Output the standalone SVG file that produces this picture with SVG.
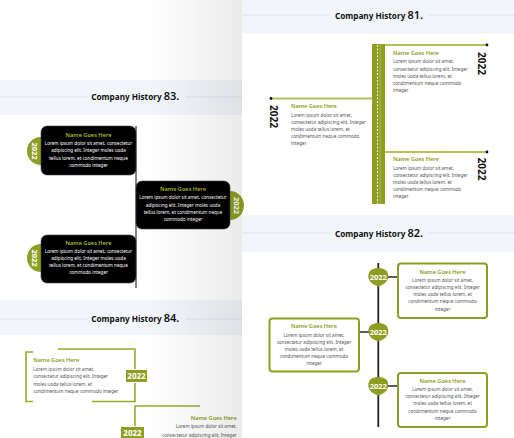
<svg xmlns="http://www.w3.org/2000/svg" width="514" height="438" viewBox="0 0 514 438">
<defs>
<style>
.band{fill:#f2f5f9}
.gl{stroke:#dfe3e8;stroke-width:1}
.title{font-family:"Noto Sans",sans-serif;font-weight:700;font-size:8.2px;fill:#111}
.num{font-size:11px;font-weight:600}
.nm{font-family:"Noto Sans",sans-serif;font-weight:600;font-size:5.6px;fill:#8a9a1b}
.nmb{font-family:"Noto Sans",sans-serif;font-weight:600;font-size:5.6px;fill:#a9bd2a}
.bd{font-family:"Noto Sans",sans-serif;font-size:4.6px;fill:#555}
.bdw{font-family:"Noto Sans",sans-serif;font-size:4.6px;fill:#fff}
.yr{font-family:"Noto Sans",sans-serif;font-weight:700;font-size:10px;fill:#111}
.yw{font-family:"Noto Sans",sans-serif;font-weight:700;font-size:7.5px;fill:#fff}
.ol{stroke:#b5c15a;stroke-width:2;fill:none}
.br{stroke:#9aaa2a;stroke-width:1.6;fill:none}
.box82{fill:#fff;stroke:#8e9e22;stroke-width:2}
.blk{fill:#000;stroke:#444;stroke-width:0.6}
.olf{fill:#8e9e22}
</style>
<linearGradient id="shade" x1="0" y1="0" x2="1" y2="0">
<stop offset="0" stop-color="#000" stop-opacity="0"/>
<stop offset="1" stop-color="#000" stop-opacity="0.08"/>
</linearGradient>
<path id="badge" d="M-10,-1 C-10,-7 -5,-9 0,-9 C5,-9 10,-7 10,-1 C10,5 5,8 0,9.5 C-5,8 -10,5 -10,-1Z"/>
</defs>
<rect width="514" height="438" fill="#fff"/>

<!-- LEFT COLUMN -->
<g id="panel83">
<rect class="band" x="0" y="80" width="242" height="35"/>
<line class="gl" x1="0" y1="97" x2="88" y2="97"/>
<line class="gl" x1="186" y1="97" x2="242" y2="97"/>
<text class="title" x="135.3" y="100.3" text-anchor="middle">Company History <tspan class="num">83.</tspan></text>
</g>
<g id="connectors83">
<line x1="136" y1="126" x2="136" y2="288" stroke="#5a5a5a" stroke-width="1.5"/>
</g>
<g id="n83a">
<path class="olf" d="M41,137 A14,14 0 0 0 41,165Z"/>
<rect class="blk" x="41" y="126" width="95" height="49" rx="6"/>
<text class="yw" transform="translate(35,151) rotate(90)" y="2.7" text-anchor="middle">2022</text>
<text class="nmb" x="88.5" y="136.5" text-anchor="middle">Name Goes Here</text>
<text class="bdw" text-anchor="middle"><tspan x="88.5" y="144.8">Lorem ipsum dolor sit amet, consectetur</tspan><tspan x="88.5" y="152.2">adipiscing elit. Integer moles uoda</tspan><tspan x="88.5" y="159.5">tellus lorem, et condimentum neque</tspan><tspan x="88.5" y="166.8">commodo integer</tspan></text>
</g>
<g id="n83b">
<path class="olf" d="M230,191 A14,14.5 0 0 1 230,220Z"/>
<rect class="blk" x="136" y="181" width="94" height="48" rx="6"/>
<text class="yw" transform="translate(236.5,205.5) rotate(90)" y="2.7" text-anchor="middle">2022</text>
<text class="nmb" x="183" y="191" text-anchor="middle">Name Goes Here</text>
<text class="bdw" text-anchor="middle"><tspan x="183" y="199.2">Lorem ipsum dolor sit amet, consectetur</tspan><tspan x="183" y="206.5">adipiscing elit. Integer moles uoda</tspan><tspan x="183" y="213.8">tellus lorem, et condimentum neque</tspan><tspan x="183" y="221.2">commodo integer</tspan></text>
</g>
<g id="n83c">
<path class="olf" d="M41,244 A14,14 0 0 0 41,272Z"/>
<rect class="blk" x="41" y="235" width="95" height="48" rx="6"/>
<text class="yw" transform="translate(35,258) rotate(90)" y="2.7" text-anchor="middle">2022</text>
<text class="nmb" x="88.5" y="245.3" text-anchor="middle">Name Goes Here</text>
<text class="bdw" text-anchor="middle"><tspan x="88.5" y="252.5">Lorem ipsum dolor sit amet, consectetur</tspan><tspan x="88.5" y="259.8">adipiscing elit. Integer moles uoda</tspan><tspan x="88.5" y="267">tellus lorem, et condimentum neque</tspan><tspan x="88.5" y="274.2">commodo integer</tspan></text>
</g>

<g id="panel84">
<rect class="band" x="0" y="300" width="242" height="35"/>
<line class="gl" x1="0" y1="319" x2="88" y2="319"/>
<line class="gl" x1="186" y1="319" x2="242" y2="319"/>
<text class="title" x="135.3" y="322.3" text-anchor="middle">Company History <tspan class="num">84.</tspan></text>
</g>
<g id="connectors84">
<path class="br" d="M33,352 H26 V401.5 H33"/>
<path class="br" d="M58,349 H135 V401.5 H92"/>
<path class="br" d="M200,406 H135 V430"/>
</g>
<g id="n84a">
<rect x="125" y="369" width="23" height="14" fill="#fff" opacity="0.9"/>
<rect class="olf" x="126" y="370" width="21" height="12"/>
<text class="yw" x="136.5" y="379" text-anchor="middle" style="font-size:8px">2022</text>
<text class="nm" x="33.3" y="362">Name Goes Here</text>
<text class="bd"><tspan x="33.3" y="370.8">Lorem ipsum dolor sit amet,</tspan><tspan x="33.3" y="378.2">consectetur adipiscing elit. Integer</tspan><tspan x="33.3" y="385.5">moles uoda tellus lorem, et</tspan><tspan x="33.3" y="392.8">condimentum neque commodo integer</tspan></text>
</g>
<g id="n84b">
<rect x="120" y="426" width="25" height="14" fill="#fff" opacity="0.9"/>
<rect class="olf" x="121" y="427" width="23" height="12"/>
<text class="yw" x="132.5" y="436" text-anchor="middle" style="font-size:8px">2022</text>
<text class="nm" x="236.7" y="419.5" text-anchor="end">Name Goes Here</text>
<text class="bd" text-anchor="end"><tspan x="236.7" y="428.2">Lorem ipsum dolor sit amet,</tspan><tspan x="236.7" y="436.5">consectetur adipiscing elit. Integer</tspan></text>
</g>
<rect x="150" y="0" width="92" height="438" fill="url(#shade)"/>

<!-- RIGHT COLUMN -->
<g id="panel81">
<rect class="band" x="242" y="0" width="272" height="34"/>
<line class="gl" x1="242" y1="15" x2="330" y2="15"/>
<line class="gl" x1="428" y1="15" x2="514" y2="15"/>
<text class="title" x="379" y="18.5" text-anchor="middle">Company History <tspan class="num">81.</tspan></text>
</g>
<g id="connectors81">
<line class="ol" x1="385" y1="45" x2="487" y2="45"/>
<line class="ol" x1="271" y1="98.5" x2="372" y2="98.5"/>
<line class="ol" x1="385" y1="152" x2="487" y2="152"/>
<circle cx="487" cy="45" r="1.4" fill="#111"/>
<circle cx="271" cy="98.5" r="1.4" fill="#111"/>
<circle cx="487" cy="152" r="1.4" fill="#111"/>
</g>
<g id="bar81">
<rect x="372" y="44" width="13" height="160" fill="#8e9e22"/>
<rect x="379.5" y="44" width="1.2" height="160" fill="#a8b64a"/>
<line x1="377.5" y1="45" x2="377.5" y2="204" stroke="#fff" stroke-width="0.9" stroke-dasharray="2,1.5"/>
</g>
<g id="n81a">
<text class="nm" x="393" y="54.5">Name Goes Here</text>
<text class="bd"><tspan x="393" y="63.2">Lorem ipsum dolor sit amet,</tspan><tspan x="393" y="70.5">consectetur adipiscing elit. Integer</tspan><tspan x="393" y="77.8">moles uoda tellus lorem, et</tspan><tspan x="393" y="85.2">condimentum neque commodo</tspan><tspan x="393" y="92.2">integer</tspan></text>
<text class="yr" transform="translate(481.5,63.5) rotate(90)" y="3.6" text-anchor="middle">2022</text>
</g>
<g id="n81b">
<text class="nm" x="291" y="107.8">Name Goes Here</text>
<text class="bd"><tspan x="291" y="116.5">Lorem ipsum dolor sit amet,</tspan><tspan x="291" y="123.5">consectetur adipiscing elit. Integer</tspan><tspan x="291" y="130.8">moles uoda tellus lorem, et</tspan><tspan x="291" y="137.8">condimentum neque commodo</tspan><tspan x="291" y="145">integer</tspan></text>
<text class="yr" transform="translate(274,116.5) rotate(90)" y="3.6" text-anchor="middle">2022</text>
</g>
<g id="n81c">
<text class="nm" x="393" y="161">Name Goes Here</text>
<text class="bd"><tspan x="393" y="169.5">Lorem ipsum dolor sit amet,</tspan><tspan x="393" y="176.5">consectetur adipiscing elit. Integer</tspan><tspan x="393" y="183.5">moles uoda tellus lorem, et</tspan><tspan x="393" y="190.5">condimentum neque commodo</tspan><tspan x="393" y="197.5">integer</tspan></text>
<text class="yr" transform="translate(481.5,169) rotate(90)" y="3.6" text-anchor="middle">2022</text>
</g>

<g id="panel82">
<rect class="band" x="242" y="215" width="272" height="37"/>
<line class="gl" x1="242" y1="233" x2="330" y2="233"/>
<line class="gl" x1="428" y1="233" x2="514" y2="233"/>
<text class="title" x="379" y="236.5" text-anchor="middle">Company History <tspan class="num">82.</tspan></text>
</g>
<g id="connectors82">
<line x1="378.3" y1="263" x2="378.3" y2="427" stroke="#222" stroke-width="1.8"/>
<line x1="386" y1="277" x2="398" y2="277" stroke="#333" stroke-width="1.6"/>
<line x1="359" y1="332" x2="370" y2="332" stroke="#333" stroke-width="1.6"/>
<line x1="386" y1="386" x2="398" y2="386" stroke="#333" stroke-width="1.6"/>
</g>
<g id="n82a">
<rect class="box82" x="398" y="263.5" width="89" height="54.5" rx="3"/>
<use href="#badge" x="378.3" y="277" class="olf"/>
<text class="yw" x="378.3" y="279.5" text-anchor="middle">2022</text>
<text class="nm" x="442.5" y="273.5" text-anchor="middle">Name Goes Here</text>
<text class="bd" text-anchor="middle"><tspan x="442.5" y="281.5">Lorem ipsum dolor sit amet,</tspan><tspan x="442.5" y="288.8">consectetur adipiscing elit. Integer</tspan><tspan x="442.5" y="295.8">moles uoda tellus lorem, et</tspan><tspan x="442.5" y="303.2">condimentum neque commodo</tspan><tspan x="442.5" y="310.5">integer</tspan></text>
</g>
<g id="n82b">
<rect class="box82" x="269.5" y="318.5" width="89.5" height="53" rx="3"/>
<use href="#badge" x="378.3" y="332" class="olf"/>
<text class="yw" x="378.3" y="334.5" text-anchor="middle">2022</text>
<text class="nm" x="314" y="328" text-anchor="middle">Name Goes Here</text>
<text class="bd" text-anchor="middle"><tspan x="314" y="336.5">Lorem ipsum dolor sit amet,</tspan><tspan x="314" y="343.5">consectetur adipiscing elit. Integer</tspan><tspan x="314" y="350.5">moles uoda tellus lorem, et</tspan><tspan x="314" y="357.5">condimentum neque commodo</tspan><tspan x="314" y="364.5">integer</tspan></text>
</g>
<g id="n82c">
<rect class="box82" x="398" y="373" width="89" height="54" rx="3"/>
<use href="#badge" x="378.3" y="386" class="olf"/>
<text class="yw" x="378.3" y="388.5" text-anchor="middle">2022</text>
<text class="nm" x="442.5" y="382.5" text-anchor="middle">Name Goes Here</text>
<text class="bd" text-anchor="middle"><tspan x="442.5" y="390.8">Lorem ipsum dolor sit amet,</tspan><tspan x="442.5" y="398.2">consectetur adipiscing elit. Integer</tspan><tspan x="442.5" y="405.2">moles uoda tellus lorem, et</tspan><tspan x="442.5" y="412.5">condimentum neque commodo</tspan><tspan x="442.5" y="419.8">integer</tspan></text>
</g>
</svg>
